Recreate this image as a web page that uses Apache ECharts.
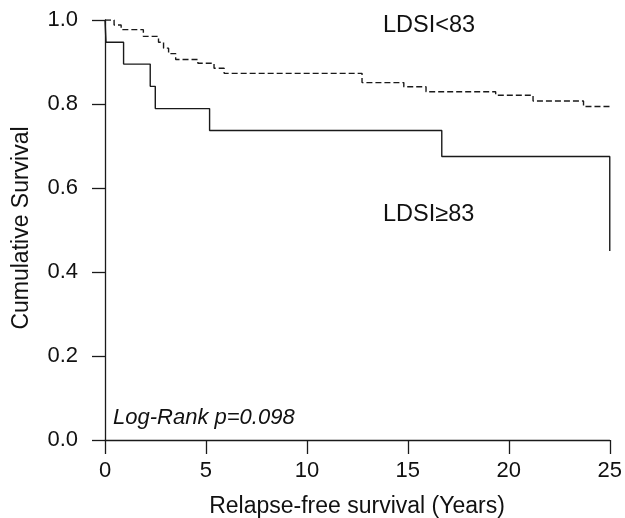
<!DOCTYPE html>
<html>
<head>
<meta charset="utf-8">
<script src="https://cdn.jsdelivr.net/npm/echarts@6/dist/echarts.min.js"></script>
<style>
  html, body { margin: 0; padding: 0; background: #fff; }
  #km { width: 625px; height: 518px; }
</style>
</head>
<body>
<div id="km"></div>
<script>
// Kaplan-Meier steps (time in years, cumulative survival)
const highTimes = [0, 0.05, 0.92, 2.24, 2.49, 5.18, 16.68, 25];
const highSurv = [1, 0.947, 0.895, 0.842, 0.789, 0.737, 0.675, 0.45];

const lowTimes = [0, 0.45, 0.8, 1.9, 2.65, 2.9, 3.15, 3.5, 4.6, 5.4, 5.9, 12.73, 14.8, 15.9, 19.35, 21.2, 23.7, 25];
const lowSurv = [1, 0.988, 0.977, 0.961, 0.947, 0.933, 0.92, 0.906, 0.897, 0.885, 0.873, 0.851, 0.841, 0.829, 0.821, 0.807, 0.794, 0.794];

const xTicks = [0, 5, 10, 15, 20, 25];
const yTicks = [0, 0.2, 0.4, 0.6, 0.8, 1.0];

const font = '"Liberation Sans", Arial, sans-serif';
const ink = '#1a1a1a';

function pairs(t, s) {
    return t.map((v, i) => [v, s[i]]);
}

let chart = echarts.init(document.getElementById('km'));

chart.setOption({
    animation: false,
    backgroundColor: '#fff',
    grid: { left: 105, right: 15, top: 20, bottom: 78 },
    xAxis: {
        type: 'value',
        min: xTicks[0],
        max: xTicks[xTicks.length - 1],
        interval: 5,
        axisLine: { show: true, lineStyle: { color: ink, width: 1.3 } },
        axisTick: { show: true, length: 14, lineStyle: { color: ink, width: 1.3 } },
        axisLabel: { margin: 20, fontSize: 22, color: '#111', fontFamily: font },
        splitLine: { show: false }
    },
    yAxis: {
        type: 'value',
        min: yTicks[0],
        max: yTicks[yTicks.length - 1],
        interval: 0.2,
        axisLine: { show: true, lineStyle: { color: ink, width: 1.3 } },
        axisTick: { show: true, length: 13, lineStyle: { color: ink, width: 1.3 } },
        axisLabel: {
            margin: 27, fontSize: 22, color: '#111', fontFamily: font,
            formatter: v => v.toFixed(1)
        },
        splitLine: { show: false }
    },
    series: [
        {
            name: 'LDSI<83',
            type: 'line',
            step: 'end',
            symbol: 'none',
            data: pairs(lowTimes, lowSurv),
            lineStyle: { color: ink, width: 1.4, type: [6, 3] }
        },
        {
            name: 'LDSI≥83',
            type: 'line',
            step: 'end',
            symbol: 'none',
            data: pairs(highTimes, highSurv),
            lineStyle: { color: ink, width: 1.4 }
        }
    ],
    graphic: [
        {
            type: 'text', x: 383, y: 26,
            style: { text: 'LDSI<83', font: '23.5px ' + font, fill: '#111', verticalAlign: 'middle' }
        },
        {
            type: 'text', x: 383, y: 215,
            style: { text: 'LDSI≥83', font: '23.5px ' + font, fill: '#111', verticalAlign: 'middle' }
        },
        {
            type: 'text', x: 113, y: 418,
            style: { text: 'Log-Rank p=0.098', font: 'italic 22px ' + font, fill: '#111', verticalAlign: 'middle' }
        },
        {
            type: 'text', x: 357, y: 507,
            style: { text: 'Relapse-free survival (Years)', font: '23px ' + font, fill: '#111', align: 'center', verticalAlign: 'middle' }
        },
        {
            type: 'text', x: 22, y: 228, rotation: Math.PI / 2,
            style: { text: 'Cumulative Survival', font: '23px ' + font, fill: '#111', align: 'center', verticalAlign: 'middle' }
        }
    ]
});
</script>
</body>
</html>
